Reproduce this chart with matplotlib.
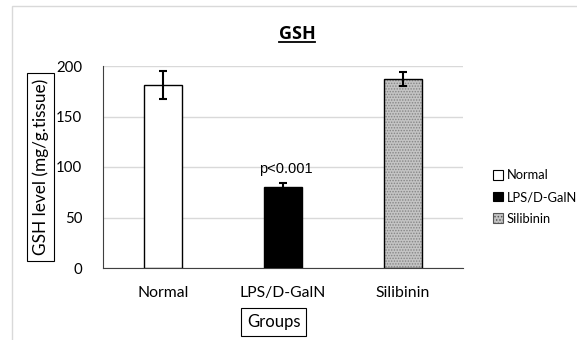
import matplotlib
matplotlib.use("Agg")
import matplotlib.pyplot as plt
from matplotlib.patches import Patch, Rectangle
from matplotlib.lines import Line2D

plt.rcParams['font.family'] = ['Lato', 'DejaVu Sans']
plt.rcParams['hatch.linewidth'] = 0.7

groups = ["Normal", "LPS/D-GalN", "Silibinin"]
values = [181, 80, 187]
errors = [14, 4, 7]
yticks = [0, 50, 100, 150, 200]
annotation = "p<0.001"

W, H = 577, 340
fig = plt.figure(figsize=(W / 100, H / 100), dpi=100)

# outer chart border
fig.patches.append(Rectangle((12 / W, -0.05), 1.1, 1 - 6 / H + 0.05, transform=fig.transFigure,
                             fill=False, edgecolor='#d9d9d9', linewidth=1.0, zorder=0))

ax = fig.add_axes([103 / W, 1 - 268 / H, 360 / W, 202 / H])
x = list(range(len(groups)))
bw = 0.32

faces = ['white', 'black', 'none']
# hatched fill for silibinin
ax.bar(x[2], values[2], width=bw, color='#c4c4c4', edgecolor='#858585', hatch='......', linewidth=0, zorder=2)
for i in range(len(groups)):
    ax.bar(x[i], values[i], width=bw, color=faces[i], edgecolor='black', linewidth=1.0, zorder=3)
ax.errorbar(x, values, yerr=errors, fmt='none', ecolor='black', elinewidth=1.5, capsize=3, capthick=1.5, zorder=4)

ax.text(x[1] + 0.02, values[1] + errors[1] + 7, annotation, ha='center', va='bottom', fontsize=10.5,
        family=['Liberation Sans', 'DejaVu Sans'])

ax.set_xlim(-0.5, 2.5)
ax.set_ylim(0, 200)
ax.set_yticks(yticks)
ax.set_xticks(x)
ax.set_xticklabels(groups, fontsize=11.3)
ax.tick_params(axis='y', labelsize=10.8, length=0, pad=15)
ax.tick_params(axis='x', length=0, pad=13)
ax.yaxis.grid(True, color='#d9d9d9', linewidth=1.0, zorder=0)
ax.set_axisbelow(True)
for s in ['top', 'right']:
    ax.spines[s].set_visible(False)
ax.spines['left'].set_color('#404040')
ax.spines['bottom'].set_color('#404040')

ax.set_ylabel("GSH level (mg/g.tissue)", fontsize=12.4,
              bbox=dict(boxstyle='square,pad=0.32', fc='white', ec='black', lw=0.8))
ax.yaxis.label.set_va('center')
ax.yaxis.label.set_ha('center')
ax.yaxis.set_label_coords((40.5 - 103) / 360, (268 - 167) / 202)
ax.set_xlabel("Groups", fontsize=12,
              bbox=dict(boxstyle='square,pad=0.35', fc='white', ec='black', lw=0.8))
ax.xaxis.label.set_va('center')
ax.xaxis.set_label_coords((273.5 - 103) / 360, (268 - 322) / 202)

title = fig.text(297 / W, 1 - 34 / H, "GSH", ha='center', va='center', fontsize=13, fontweight='bold',
                 family=['Open Sans', 'DejaVu Sans'])

handles = [Patch(facecolor='white', edgecolor='black', lw=0.8),
           Patch(facecolor='black', edgecolor='black', lw=0.8),
           Patch(facecolor='#c4c4c4', edgecolor='#555555', hatch='.....', lw=0.8)]
fig.legend(handles, groups, loc='center left', bbox_to_anchor=(487 / W, 1 - 197 / H),
           frameon=False, fontsize=9.3, handlelength=0.75, handleheight=0.75,
           handletextpad=0.25, labelspacing=0.75, borderpad=0)

fig.canvas.draw()
bb = title.get_window_extent()
yline = bb.y0 + 1
fig.add_artist(Line2D([bb.x0 / W, bb.x1 / W], [yline / H, yline / H], transform=fig.transFigure,
                      color='black', linewidth=1.3))

fig.savefig("out.png", dpi=100)
